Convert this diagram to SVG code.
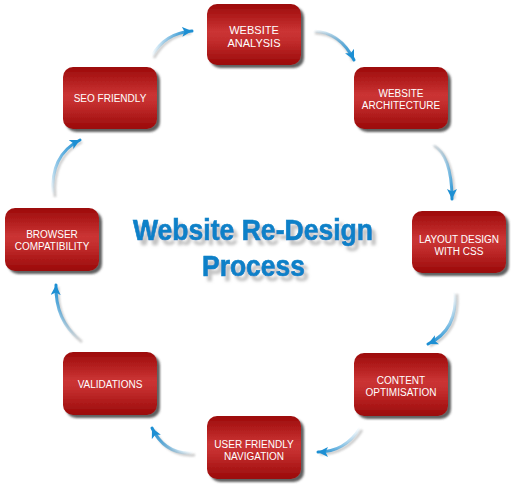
<svg xmlns="http://www.w3.org/2000/svg" width="515" height="485" viewBox="0 0 515 485">
<style>
.box{fill:url(#redg);filter:url(#sh)}
.lbl{font-family:"Liberation Sans",Arial,sans-serif;font-size:10px;fill:#ffffff;text-anchor:middle}
.arr{fill:none;stroke-width:3;stroke-linecap:round;marker-end:url(#head)}
.arrsh{fill:none;stroke:#9a9a9a;stroke-width:2.5;opacity:0.55;filter:url(#blur1)}
.title{font-family:"Liberation Sans",Arial,sans-serif;font-weight:bold;font-size:30px;text-anchor:middle;fill:#0a80c8;stroke:#0a80c8;stroke-width:0.7}
</style>
<defs>
<linearGradient id="redg" x1="0" y1="0" x2="0" y2="1">
<stop offset="0" stop-color="#9c0a0a"/>
<stop offset="0.45" stop-color="#cb3434"/>
<stop offset="0.6" stop-color="#c32d2d"/>
<stop offset="1" stop-color="#9a0909"/>
</linearGradient>
<filter id="sh" x="-10%" y="-10%" width="125%" height="130%">
<feGaussianBlur in="SourceAlpha" stdDeviation="1.2"/>
<feOffset dx="3" dy="3" result="o"/>
<feFlood flood-color="#444" flood-opacity="0.85"/>
<feComposite in2="o" operator="in"/>
<feMerge><feMergeNode/><feMergeNode in="SourceGraphic"/></feMerge>
</filter>
<filter id="blur1" x="-20%" y="-20%" width="140%" height="140%"><feGaussianBlur stdDeviation="0.8"/></filter>
<filter id="tsh" x="-10%" y="-20%" width="120%" height="160%">
<feGaussianBlur in="SourceAlpha" stdDeviation="1.6"/>
<feOffset dx="4" dy="5" result="o"/>
<feFlood flood-color="#9a9a9a" flood-opacity="0.6"/>
<feComposite in2="o" operator="in"/>
<feMerge><feMergeNode/><feMergeNode in="SourceGraphic"/></feMerge>
</filter>
<marker id="head" markerUnits="userSpaceOnUse" markerWidth="11" markerHeight="10" refX="10" refY="5" orient="auto" viewBox="0 0 11 10">
<path d="M0,0 L10,5 L0,10 L2.5,5 Z" fill="#1d8fd3"/>
</marker>
<linearGradient id="g1" gradientUnits="userSpaceOnUse" x1="152" y1="56" x2="192" y2="31"><stop offset="0" stop-color="#1d8fd3" stop-opacity="0"/><stop offset="1" stop-color="#1d8fd3"/></linearGradient>
<linearGradient id="g2" gradientUnits="userSpaceOnUse" x1="313" y1="31" x2="354" y2="60"><stop offset="0" stop-color="#1d8fd3" stop-opacity="0"/><stop offset="1" stop-color="#1d8fd3"/></linearGradient>
<linearGradient id="g3" gradientUnits="userSpaceOnUse" x1="432" y1="144" x2="452" y2="199"><stop offset="0" stop-color="#1d8fd3" stop-opacity="0"/><stop offset="1" stop-color="#1d8fd3"/></linearGradient>
<linearGradient id="g4" gradientUnits="userSpaceOnUse" x1="455" y1="292" x2="428" y2="344"><stop offset="0" stop-color="#1d8fd3" stop-opacity="0"/><stop offset="1" stop-color="#1d8fd3"/></linearGradient>
<linearGradient id="g5" gradientUnits="userSpaceOnUse" x1="360" y1="428" x2="318" y2="452"><stop offset="0" stop-color="#1d8fd3" stop-opacity="0"/><stop offset="1" stop-color="#1d8fd3"/></linearGradient>
<linearGradient id="g6" gradientUnits="userSpaceOnUse" x1="193" y1="453" x2="152" y2="428"><stop offset="0" stop-color="#1d8fd3" stop-opacity="0"/><stop offset="1" stop-color="#1d8fd3"/></linearGradient>
<linearGradient id="g7" gradientUnits="userSpaceOnUse" x1="80" y1="340" x2="56" y2="285"><stop offset="0" stop-color="#1d8fd3" stop-opacity="0"/><stop offset="1" stop-color="#1d8fd3"/></linearGradient>
<linearGradient id="g8" gradientUnits="userSpaceOnUse" x1="53" y1="195" x2="80" y2="140"><stop offset="0" stop-color="#1d8fd3" stop-opacity="0"/><stop offset="1" stop-color="#1d8fd3"/></linearGradient>
</defs>

<g id="title" filter="url(#tsh)">
<text class="title" x="253" y="240" textLength="240" lengthAdjust="spacingAndGlyphs">Website Re-Design</text>
<text class="title" x="253.5" y="276" textLength="103" lengthAdjust="spacingAndGlyphs">Process</text>
</g>

<g id="connectors">
<path class="arrsh" d="M154,58 Q167,35 191,33"/>
<path class="arr" stroke="url(#g1)" d="M152,56 Q165,33 192,31"/>
<path class="arrsh" d="M315,33 Q342,34 353,61"/>
<path class="arr" stroke="url(#g2)" d="M313,31 Q340,32 354,60"/>
<path class="arrsh" d="M434,146 Q454,157 454,199"/>
<path class="arr" stroke="url(#g3)" d="M432,144 Q452,155 452,199"/>
<path class="arrsh" d="M457,294 Q460,332 430,346"/>
<path class="arr" stroke="url(#g4)" d="M455,292 Q458,330 428,344"/>
<path class="arrsh" d="M362,430 Q347,454 320,454"/>
<path class="arr" stroke="url(#g5)" d="M360,428 Q345,452 318,452"/>
<path class="arrsh" d="M195,455 Q167,457 154,430"/>
<path class="arr" stroke="url(#g6)" d="M193,453 Q165,455 152,428"/>
<path class="arrsh" d="M82,342 Q57,322 58,287"/>
<path class="arr" stroke="url(#g7)" d="M80,340 Q55,320 56,285"/>
<path class="arrsh" d="M55,197 Q52,157 82,142"/>
<path class="arr" stroke="url(#g8)" d="M53,195 Q50,155 80,140"/>
</g>

<g id="n1"><rect class="box" x="207" y="4" width="94" height="61" rx="10"/>
<text class="lbl" x="254" y="33.5" style="font-size:11px">WEBSITE</text><text class="lbl" x="254" y="46.5" style="font-size:11px">ANALYSIS</text></g>
<g id="n2"><rect class="box" x="354" y="67" width="94" height="62" rx="10"/>
<text class="lbl" x="401" y="97">WEBSITE</text><text class="lbl" x="401" y="109">ARCHITECTURE</text></g>
<g id="n3"><rect class="box" x="412" y="211" width="94" height="62" rx="10"/>
<text class="lbl" x="459" y="243">LAYOUT DESIGN</text><text class="lbl" x="459" y="255">WITH CSS</text></g>
<g id="n4"><rect class="box" x="354" y="353" width="94" height="63" rx="10"/>
<text class="lbl" x="401" y="383.5">CONTENT</text><text class="lbl" x="401" y="395.5">OPTIMISATION</text></g>
<g id="n5"><rect class="box" x="207" y="416" width="94" height="63" rx="10"/>
<text class="lbl" x="254" y="447.5">USER FRIENDLY</text><text class="lbl" x="254" y="459.5">NAVIGATION</text></g>
<g id="n6"><rect class="box" x="63" y="352" width="94" height="63" rx="10"/>
<text class="lbl" x="110" y="387.5">VALIDATIONS</text></g>
<g id="n7"><rect class="box" x="5" y="208" width="94" height="63" rx="10"/>
<text class="lbl" x="52" y="237.5">BROWSER</text><text class="lbl" x="52" y="250">COMPATIBILITY</text></g>
<g id="n8"><rect class="box" x="63" y="67" width="94" height="62" rx="10"/>
<text class="lbl" x="110" y="102">SEO FRIENDLY</text></g>
</svg>
